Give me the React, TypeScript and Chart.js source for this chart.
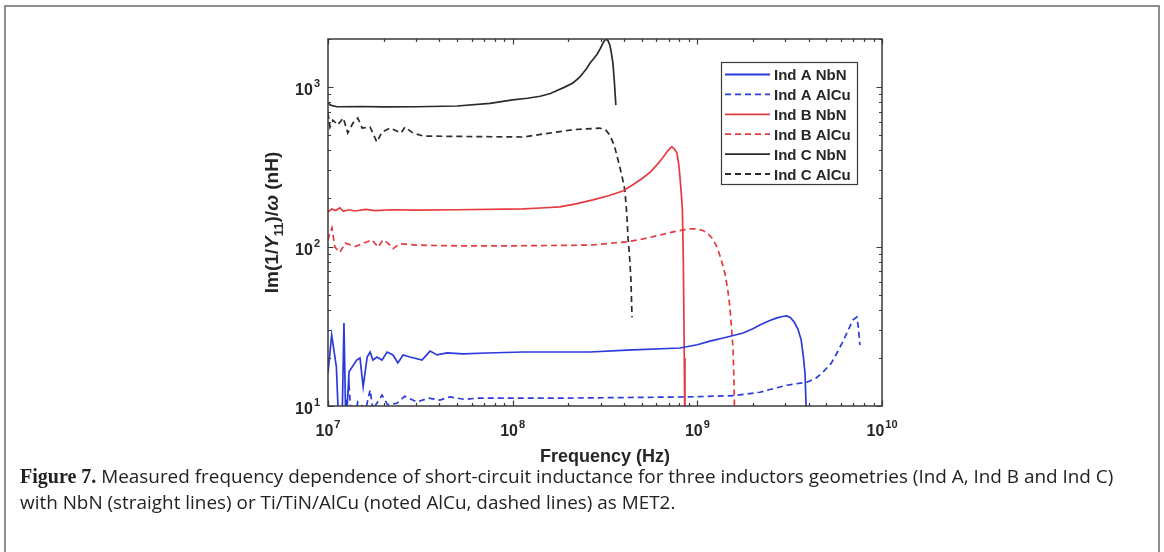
import React, { useEffect, useRef } from 'react';
import { Chart, registerables } from 'chart.js';

Chart.register(...registerables);

// ---------- axis ranges & ticks ----------
const FREQ_MIN = 1e7;
const FREQ_MAX = 1e10;
const L_MIN = 10;
const L_MAX = 2000;
const xTickExponents = [7, 8, 9, 10];
const yTickExponents = [1, 2, 3];
const xTitle = 'Frequency (Hz)';

const seriesLabels = ['Ind A NbN', 'Ind A AlCu', 'Ind B NbN', 'Ind B AlCu', 'Ind C NbN', 'Ind C AlCu'];

// ---------- data (frequency in Hz, inductance in nH) ----------
const indANbNFreq = [1.0e7, 1.047e7, 1.11e7, 1.147e7, 1.19e7, 1.22e7, 1.25e7, 1.3e7, 1.43e7, 1.49e7, 1.55e7, 1.63e7, 1.69e7, 1.75e7, 1.84e7, 1.96e7, 2.09e7, 2.25e7, 2.39e7, 2.55e7, 2.78e7, 3.23e7, 3.57e7, 3.9e7, 4.41e7, 5.38e7, 7.25e7, 1.14e8, 2.62e8, 4.16e8, 8.05e8, 1.0e9, 1.17e9, 1.4e9, 1.77e9, 2.0e9, 2.18e9, 2.45e9, 2.7e9, 2.9e9, 3.05e9, 3.2e9, 3.35e9, 3.5e9, 3.65e9, 3.75e9, 3.83e9, 3.92e9];
const indANbNL = [16.1, 27.9, 17.6, 7, 7, 33.1, 7, 16.4, 19.4, 20.0, 13.2, 20.3, 21.8, 19.4, 20.3, 19.4, 21.8, 20.9, 18.6, 20.9, 20.3, 19.4, 22.1, 20.9, 21.5, 21.2, 21.5, 21.8, 21.8, 22.4, 23.1, 24.2, 25.5, 26.8, 28.7, 30.5, 32.2, 34.2, 35.7, 36.4, 36.7, 35.8, 33.5, 30.5, 26, 20.5, 16, 7];

const indAAlCuFreq = [1.0e7, 1.2e7, 1.3e7, 1.35e7, 1.45e7, 1.6e7, 1.69e7, 1.75e7, 1.96e7, 2.1e7, 2.36e7, 2.6e7, 3.03e7, 3.5e7, 4.04e7, 4.57e7, 5.5e7, 6.41e7, 1.14e8, 1.8e8, 4.0e8, 8.79e8, 1.56e9, 2.18e9, 3.05e9, 3.92e9, 4.4e9, 4.79e9, 5.3e9, 5.7e9, 6.1e9, 6.46e9, 6.95e9, 7.31e9, 7.45e9, 7.59e9];
const indAAlCuL = [7, 7, 13.5, 7, 10.6, 9.5, 12.6, 9.5, 11.7, 10.2, 10.4, 11.5, 10.6, 11.2, 10.9, 11.4, 11.0, 11.2, 11.2, 11.2, 11.3, 11.4, 11.6, 12.2, 13.5, 14.1, 15.0, 16.3, 18.5, 21.5, 25.0, 28.7, 34.6, 36.1, 31.0, 24.1];

const indBNbNFreq = [1.0e7, 1.05e7, 1.1e7, 1.16e7, 1.21e7, 1.3e7, 1.4e7, 1.6e7, 1.8e7, 2.2e7, 3.0e7, 5.0e7, 1.14e8, 1.5e8, 1.8e8, 2.2e8, 2.72e8, 3.3e8, 3.95e8, 4.5e8, 5.07e8, 5.6e8, 6.04e8, 6.5e8, 6.84e8, 7.1e8, 7.28e8, 7.5e8, 7.76e8, 7.95e8, 8.05e8, 8.2e8, 8.3e8, 8.4e8, 8.5e8, 8.57e8];
const indBNbNL = [165, 172, 168, 175, 166, 170, 167, 171, 168, 170, 169, 170, 172, 175, 177, 185, 196, 208, 223, 245, 269, 295, 325, 360, 391, 412, 421, 410, 385, 320, 273, 210, 170, 80, 20, 6];

const indBAlCuFreq = [1.0e7, 1.025e7, 1.05e7, 1.09e7, 1.16e7, 1.24e7, 1.4e7, 1.63e7, 1.73e7, 1.87e7, 1.98e7, 2.11e7, 2.25e7, 2.45e7, 3.0e7, 5.0e7, 1.0e8, 2.62e8, 4.16e8, 5.0e8, 6.28e8, 7.3e8, 8.36e8, 9.2e8, 9.95e8, 1.07e9, 1.13e9, 1.2e9, 1.28e9, 1.35e9, 1.41e9, 1.46e9, 1.5e9, 1.53e9, 1.56e9, 1.58e9, 1.6e9];
const indBAlCuL = [110, 122, 131, 99, 92, 105, 100, 107, 110, 99, 110, 105, 97, 104, 102, 101, 101, 102, 107, 111, 118, 123, 127, 129, 129, 126, 122, 113, 99, 82, 68, 54, 42, 31, 23, 14, 6];

const indCNbNFreq = [1.0e7, 1.03e7, 1.12e7, 1.5e7, 2.0e7, 3.0e7, 5.0e7, 7.53e7, 1.0e8, 1.2e8, 1.41e8, 1.6e8, 1.74e8, 1.9e8, 2.12e8, 2.3e8, 2.4e8, 2.52e8, 2.62e8, 2.75e8, 2.86e8, 2.98e8, 3.08e8, 3.15e8, 3.2e8, 3.28e8, 3.36e8, 3.42e8, 3.49e8, 3.55e8, 3.62e8];
const indCNbNL = [800, 770, 752, 755, 750, 752, 760, 790, 830, 850, 875, 910, 950, 995, 1060, 1150, 1220, 1310, 1410, 1510, 1600, 1740, 1880, 1960, 1990, 1960, 1830, 1650, 1410, 1100, 770];

const indCAlCuFreq = [1.0e7, 1.025e7, 1.064e7, 1.13e7, 1.21e7, 1.28e7, 1.365e7, 1.45e7, 1.53e7, 1.69e7, 1.84e7, 1.96e7, 2.17e7, 2.49e7, 2.61e7, 2.88e7, 3.27e7, 5.0e7, 1.14e8, 2.12e8, 2.96e8, 3.2e8, 3.36e8, 3.55e8, 3.72e8, 3.9e8, 4.05e8, 4.15e8, 4.21e8, 4.3e8, 4.37e8, 4.43e8];
const indCAlCuL = [687, 560, 620, 578, 639, 515, 594, 639, 553, 561, 452, 522, 553, 515, 561, 515, 493, 490, 486, 540, 553, 535, 500, 430, 349, 280, 226, 160, 115, 85, 61.7, 36];

const seriesFreqs = [indANbNFreq, indAAlCuFreq, indBNbNFreq, indBAlCuFreq, indCNbNFreq, indCAlCuFreq];
const seriesValues = [indANbNL, indAAlCuL, indBNbNL, indBAlCuL, indCNbNL, indCAlCuL];
const seriesColors = ['#2b3bdb', '#2b3bdb', '#e53a3e', '#e53a3e', '#2b2b2b', '#2b2b2b'];
const seriesDashed = [false, true, false, true, false, true];

// ---------- styling ----------
const SANS = '"Liberation Sans", Arial, Helvetica, sans-serif';
const AXIS_COLOR = '#3a3a3a';
const TEXT_COLOR = '#262626';
const DASH = [6, 4];

function drawPow(ctx: CanvasRenderingContext2D, exp: number, x: number, baseline: number, align: 'center' | 'right') {
  const baseFont = `bold 16px ${SANS}`;
  const expFont = `bold 11px ${SANS}`;
  ctx.font = baseFont;
  const wb = ctx.measureText('10').width;
  ctx.font = expFont;
  const we = ctx.measureText(String(exp)).width;
  const total = wb + 1 + we;
  const left = align === 'center' ? x - total / 2 : x - total;
  ctx.textAlign = 'left';
  ctx.textBaseline = 'alphabetic';
  ctx.fillStyle = TEXT_COLOR;
  ctx.font = baseFont;
  ctx.fillText('10', left, baseline);
  ctx.font = expFont;
  ctx.fillText(String(exp), left + wb + 1, baseline - 8);
}

const decorPlugin = {
  id: 'decor',
  afterDatasetsDraw(chart: any) {
    const { ctx, chartArea: a, scales } = chart;
    const xs = scales.x;
    const ys = scales.y;
    ctx.save();

    // tick marks (inside, on all four sides)
    ctx.strokeStyle = AXIS_COLOR;
    ctx.lineWidth = 1.2;
    const majorLen = 5.5;
    const minorLen = 3;
    const xTicks: [number, boolean][] = [];
    xTickExponents.forEach((e, i) => {
      xTicks.push([Math.pow(10, e), true]);
      if (i < xTickExponents.length - 1) for (let m = 2; m <= 9; m++) xTicks.push([m * Math.pow(10, e), false]);
    });
    const yTicks: [number, boolean][] = [];
    for (let e = yTickExponents[0]; e <= 3; e++) {
      yTicks.push([Math.pow(10, e), true]);
      for (let m = 2; m <= 9; m++) {
        const v = m * Math.pow(10, e);
        if (v <= L_MAX) yTicks.push([v, false]);
      }
    }
    ctx.beginPath();
    xTicks.forEach(([v, major]) => {
      const px = Math.round(xs.getPixelForValue(v)) + 0.5;
      const len = major ? majorLen : minorLen;
      ctx.moveTo(px, a.bottom);
      ctx.lineTo(px, a.bottom - len);
      ctx.moveTo(px, a.top);
      ctx.lineTo(px, a.top + len);
    });
    yTicks.forEach(([v, major]) => {
      const py = Math.round(ys.getPixelForValue(v)) + 0.5;
      const len = major ? majorLen : minorLen;
      ctx.moveTo(a.left, py);
      ctx.lineTo(a.left + len, py);
      ctx.moveTo(a.right, py);
      ctx.lineTo(a.right - len, py);
    });
    ctx.stroke();

    // box
    ctx.lineWidth = 1.5;
    ctx.strokeRect(a.left, a.top, a.right - a.left, a.bottom - a.top);

    // tick labels
    xTickExponents.forEach((e) => drawPow(ctx, e, xs.getPixelForValue(Math.pow(10, e)), a.bottom + 30, 'center'));
    yTickExponents.forEach((e) => drawPow(ctx, e, a.left - 8, ys.getPixelForValue(Math.pow(10, e)) + 8, 'right'));

    // x title
    ctx.fillStyle = TEXT_COLOR;
    ctx.font = `bold 18px ${SANS}`;
    ctx.textAlign = 'center';
    ctx.textBaseline = 'alphabetic';
    ctx.fillText(xTitle, (a.left + a.right) / 2, a.bottom + 56);

    // y title with italic Y, subscript 11 and omega
    const segs = [
      { t: 'Im(1/', f: `bold 19px ${SANS}`, dy: 0 },
      { t: 'Y', f: `italic bold 19px ${SANS}`, dy: 0 },
      { t: '11', f: `bold 13px ${SANS}`, dy: 5 },
      { t: ')/', f: `bold 19px ${SANS}`, dy: 0 },
      { t: 'ω', f: `italic bold 19px ${SANS}`, dy: 0 },
      { t: ' (nH)', f: `bold 19px ${SANS}`, dy: 0 },
    ];
    let total = 0;
    const widths = segs.map((s) => {
      ctx.font = s.f;
      const w = ctx.measureText(s.t).width;
      total += w;
      return w;
    });
    ctx.save();
    ctx.translate(a.left - 56, (a.top + a.bottom) / 2);
    ctx.rotate(-Math.PI / 2);
    ctx.textAlign = 'left';
    let cx = -total / 2;
    segs.forEach((s, i) => {
      ctx.font = s.f;
      ctx.fillText(s.t, cx, 6 + s.dy);
      cx += widths[i];
    });
    ctx.restore();

    // legend
    const lx = a.right - 161;
    const ly = a.top + 23;
    const lw = 136;
    const lh = 122;
    ctx.fillStyle = '#ffffff';
    ctx.fillRect(lx, ly, lw, lh);
    ctx.strokeStyle = AXIS_COLOR;
    ctx.lineWidth = 1.2;
    ctx.strokeRect(lx + 0.5, ly + 0.5, lw, lh);
    chart.data.datasets.forEach((ds: any, i: number) => {
      const cy = ly + 12.5 + i * 19.9;
      ctx.strokeStyle = ds.borderColor;
      ctx.lineWidth = 1.8;
      ctx.setLineDash(ds.borderDash || []);
      ctx.beginPath();
      ctx.moveTo(lx + 4, cy);
      ctx.lineTo(lx + 49, cy);
      ctx.stroke();
      ctx.setLineDash([]);
      ctx.fillStyle = TEXT_COLOR;
      ctx.font = `bold 15px ${SANS}`;
      ctx.textAlign = 'left';
      ctx.textBaseline = 'alphabetic';
      ctx.fillText(ds.label, lx + 53, cy + 5.5);
    });

    ctx.restore();
  },
};

function ChartCanvas() {
  const ref = useRef<HTMLCanvasElement | null>(null);
  useEffect(() => {
    if (!ref.current) return;
    const datasets = seriesLabels.map((label, i) => ({
      label,
      data: seriesFreqs[i].map((f, j) => ({ x: f, y: seriesValues[i][j] })),
      borderColor: seriesColors[i],
      backgroundColor: seriesColors[i],
      borderWidth: 1.7,
      borderDash: seriesDashed[i] ? DASH : [],
      pointRadius: 0,
      tension: 0,
      fill: false,
    }));
    const chart = new Chart(ref.current, {
      type: 'line',
      data: { datasets },
      options: {
        animation: false,
        responsive: false,
        devicePixelRatio: 1,
        layout: { padding: { left: 328, top: 39, right: 282, bottom: 64 } },
        plugins: { legend: { display: false }, tooltip: { enabled: false } },
        scales: {
          x: { type: 'logarithmic', min: FREQ_MIN, max: FREQ_MAX, display: false },
          y: { type: 'logarithmic', min: L_MIN, max: L_MAX, display: false },
        },
      },
      plugins: [decorPlugin],
    } as any);
    return () => chart.destroy();
  }, []);
  return <canvas ref={ref} width={1164} height={470} style={{ position: 'absolute', left: 0, top: 0 }} />;
}

export default function App() {
  return (
    <div style={{ position: 'fixed', left: 0, top: 0, width: 1164, height: 552, background: '#ffffff', overflow: 'hidden' }}>
      <div style={{ position: 'absolute', left: 4, top: 5, width: 1156, height: 570, border: '2px solid #8e8e8e', boxSizing: 'border-box' }} />
      <ChartCanvas />
      <div
        style={{
          position: 'absolute',
          left: 20,
          top: 463,
          width: 1130,
          fontFamily: '"Open Sans", "Noto Sans", sans-serif',
          fontSize: 18.9,
          lineHeight: '26px',
          color: '#222',
          whiteSpace: 'nowrap',
        }}
      >
        <span style={{ fontFamily: '"Liberation Serif", "Times New Roman", serif', fontWeight: 'bold', fontSize: 20 }}>Figure 7.</span>{' '}
        Measured frequency dependence of short-circuit inductance for three inductors geometries (Ind A, Ind B and Ind C)
        <br />
        with NbN (straight lines) or Ti/TiN/AlCu (noted AlCu, dashed lines) as MET2.
      </div>
    </div>
  );
}
